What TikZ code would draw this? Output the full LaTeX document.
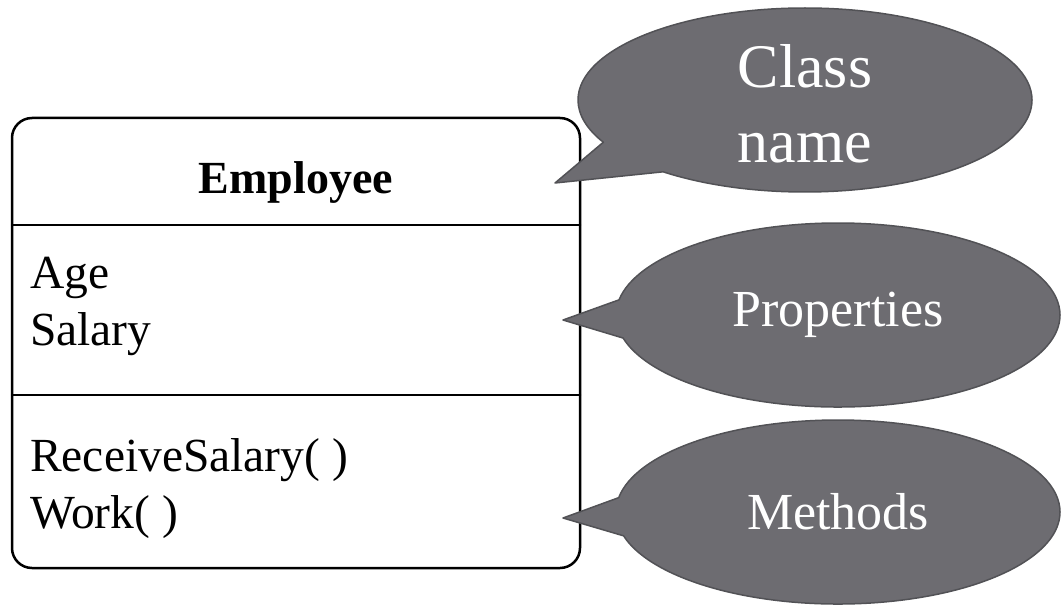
\documentclass[tikz,border=0pt]{standalone}
\usepackage{fontspec}
\setmainfont{Liberation Serif}
\usetikzlibrary{shapes.callouts,positioning}
\definecolor{notegray}{RGB}{109,108,113}
\definecolor{noteedge}{RGB}{82,82,86}

\tikzset{
 member/.style={anchor=base west,inner sep=0pt,font=\fontsize{47.5}{57}\selectfont},
 note/.style={ellipse callout,fill=notegray,draw=noteedge,line width=1.5pt,
  inner sep=0pt,minimum width=444pt,minimum height=184pt,callout pointer arc=24},
 notetext/.style={text=white,align=center,inner sep=0pt}
}

\begin{document}
\begin{tikzpicture}[x=1pt,y=-1pt,line cap=round,line join=round]
 \useasboundingbox (0,0) rectangle (1062,607);
 % class box
 \draw[line width=2.5pt,rounded corners=20pt] (12,118) rectangle (580,568);
 \draw[line width=2.5pt] (12,225) -- (580,225);
 \draw[line width=2.5pt] (12,395) -- (580,395);
 \node[anchor=base,inner sep=0pt,font=\fontsize{46}{57}\selectfont\bfseries] (cls) at (296,193) {Employee};
 \node[member] (age) at (30,288) {Age};
 \node[member] (salary) at (30,345) {Salary};
 \node[member] (recv) at (30,471) {ReceiveSalary( )};
 \node[member] (work) at (30,528) {Work( )};
 % pointer tips
 \coordinate (tipname) at (555,183);
 \coordinate (tipprops) at (563,320);
 \coordinate (tipmeth) at (563,518);
 % callouts
 \node[note,minimum width=454pt,callout absolute pointer={(tipname)}] (namenote) at (805,100) {};
 \node[note,callout absolute pointer={(tipprops)}] (propnote) at (838,315) {};
 \node[note,callout absolute pointer={(tipmeth)}] (methnote) at (838,512) {};
 \node[notetext,font=\fontsize{62}{75}\selectfont] at ([yshift=-4pt]namenote.center) {Class\\name};
 \node[notetext,font=\fontsize{52}{60}\selectfont] at (propnote.center) {Properties};
 \node[notetext,font=\fontsize{52}{60}\selectfont] at (methnote.center) {Methods};
\end{tikzpicture}
\end{document}
